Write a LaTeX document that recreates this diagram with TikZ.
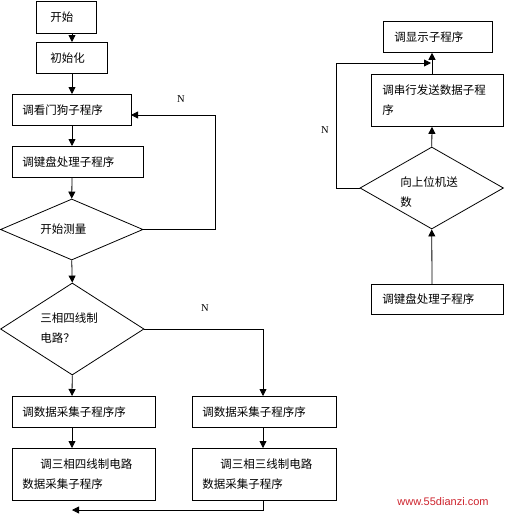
\documentclass[tikz,border=0pt]{standalone}
\usepackage{fontspec}
\newfontfamily\cjk{Noto Sans CJK SC}
\newfontfamily\wmfont{Liberation Sans}
\newfontfamily\nfont{Liberation Serif}
\usetikzlibrary{arrows.meta,shapes.geometric}
\begin{document}
\begin{tikzpicture}[x=1pt,y=-1pt,
  line width=0.8pt,
  box/.style={draw, rectangle, anchor=north west, inner xsep=10pt, inner ysep=0pt,
    align=left, font=\cjk\fontsize{11.5pt}{20pt}\selectfont},
  dia/.style={draw, diamond, inner sep=0pt},
  dtext/.style={anchor=west, inner sep=0pt, align=left, font=\cjk\fontsize{11.5pt}{20pt}\selectfont},
  arr/.style={-{Triangle[length=7pt,width=7pt]}},
  nlab/.style={font=\nfont\fontsize{10.5pt}{12pt}\selectfont, inner sep=0pt}]
\useasboundingbox (0,0) rectangle (504,514);
\coordinate (col) at (72,0);
\coordinate (colr) at (432,0);
\coordinate (colm) at (263,0);
% left column
\node[box, inner xsep=14pt, text width=32pt, minimum width=60pt, minimum height=32pt] (start) at (36,0.5) {开始};
\node[box, inner xsep=14pt, text width=43pt, minimum width=71pt, minimum height=31pt] (init) at (36,42) {初始化};
\node[box, text width=99pt, minimum width=119pt, minimum height=31pt] (wd) at (12,94) {调看门狗子程序};
\node[box, text width=111pt, minimum width=131pt, minimum height=31pt] (kb) at (12,146) {调键盘处理子程序};
\node[dia, minimum width=142.5pt, minimum height=61pt] (d1) at (71.75,229.5) {};
\node[dtext] (d1t) at (40,229) {开始测量};
\node[dia, minimum width=143.5pt, minimum height=92pt] (d2) at (72.25,329) {};
\node[dtext] (d2t) at (40,328) {三相四线制\\电路？};
\node[box, text width=123pt, minimum width=143pt, minimum height=31pt] (da1) at (12,396) {调数据采集子程序序};
\node[box, text width=124pt, minimum width=144pt, minimum height=31pt] (da2) at (192,396) {调数据采集子程序序};
\node[box, text width=123pt, minimum width=143pt, minimum height=52pt] (c1) at (12,448) {\hspace*{18pt}调三相四线制电路\\数据采集子程序};
\node[box, text width=124pt, minimum width=144pt, minimum height=52pt] (c2) at (192,448) {\hspace*{18pt}调三相三线制电路\\数据采集子程序};
% right column
\node[box, inner xsep=11pt, text width=87pt, minimum width=109pt, minimum height=31pt] (disp) at (383,21) {调显示子程序};
\node[box, inner xsep=11pt, text width=110pt, minimum width=132pt, minimum height=52pt] (ser) at (371,74) {调串行发送数据子程\\序};
\node[dia, minimum width=143.5pt, minimum height=82pt] (d3) at (431.75,188) {};
\node[dtext] (d3t) at (400,192) {向上位机送\\数};
\node[box, inner xsep=11pt, text width=110pt, minimum width=132pt, minimum height=30pt] (kb2) at (371,284) {调键盘处理子程序};
% labels
\node[nlab] (n1) at (181,99) {N};
\node[nlab] (n2) at (205,308) {N};
\node[nlab] (n3) at (325,130) {N};
\node[font=\wmfont\fontsize{11pt}{12pt}\selectfont, text={rgb,255:red,205;green,35;blue,45}, inner sep=0pt] (wm) at (443,502) {www.55dianzi.com};
% left connectors
\draw[arr] (start.south -| col) -- (init.north -| col);
\draw[arr] (init.south -| col) -- (wd.north -| col);
\draw[arr] (wd.south -| col) -- (kb.north -| col);
\draw[arr] (kb.south -| col) -- (d1.north);
\draw[arr] (d1.south) -- (d2.north);
\coordinate (l1a) at (215,229.5);
\coordinate (l1b) at (215,115);
\coordinate (l1c) at (131,115);
\draw[arr] (d1.east) -- (l1a) -- (l1b) -- (l1c);
\draw[arr] (d2.south) -- (da1.north -| col);
\draw[arr] (d2.east) -- (d2.east -| colm) -- (da2.north -| colm);
\draw[arr] (da1.south -| col) -- (c1.north -| col);
\draw[arr] (da2.south -| colm) -- (c2.north -| colm);
\coordinate (ret) at (72,510);
\draw[arr] (c2.south -| colm) -- (colm |- ret) -- (ret);
% right connectors
\draw[arr] (kb2.north -| colr) -- (d3.south);
\draw[arr] (d3.north) -- (ser.south -| colr);
\draw[arr] (ser.north -| colr) -- (disp.south -| colr);
\coordinate (l2a) at (336,188);
\coordinate (l2b) at (336,63);
\coordinate (l2c) at (431,63);
\draw[arr] (d3.west) -- (l2a) -- (l2b) -- (l2c);
\end{tikzpicture}
\end{document}
